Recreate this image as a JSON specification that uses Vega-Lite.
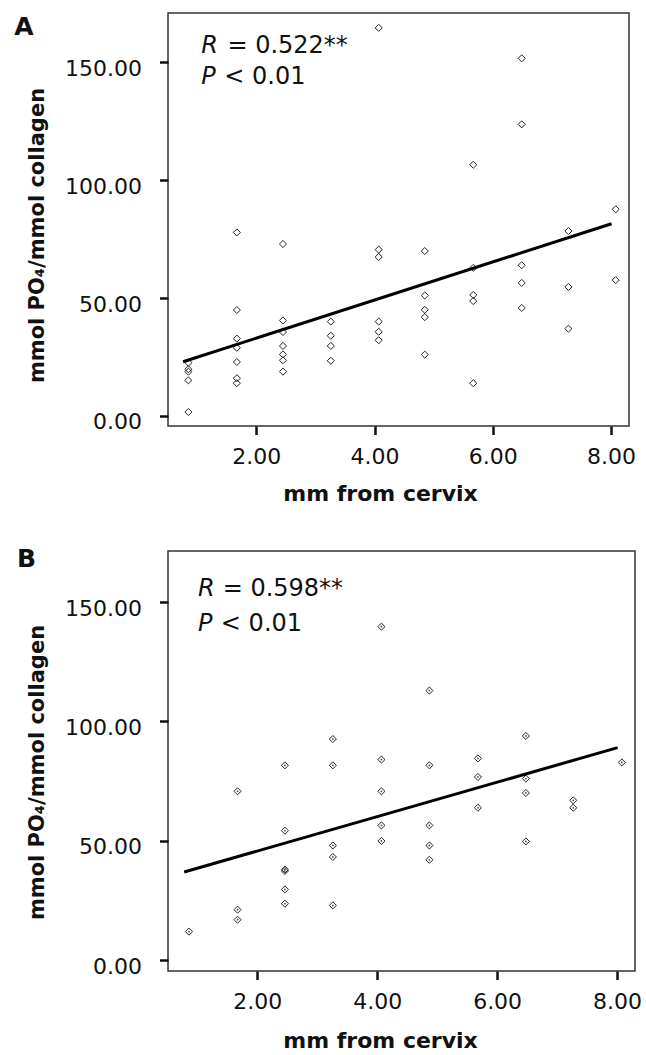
{
  "$schema": "https://vega.github.io/schema/vega-lite/v6.json",
  "background": "white",
  "padding": {"left": 13, "top": 12, "right": 0, "bottom": 0},
  "spacing": 41,
  "config": {
    "font": "DejaVu Sans",
    "view": {"stroke": "#333", "strokeWidth": 1.5},
    "axis": {
      "grid": false,
      "domain": false,
      "tickColor": "#111",
      "tickWidth": 2.5,
      "tickSize": 8.5,
      "labelFont": "DejaVu Sans",
      "labelFontSize": 22,
      "labelColor": "#111",
      "titleFont": "DejaVu Sans",
      "titleFontSize": 22,
      "titleFontWeight": "bold",
      "titleColor": "#111"
    }
  },
  "datasets": {
    "ptsA": [
      {"mm": 0.85, "ratio": 22.6}, {"mm": 0.85, "ratio": 19.8}, {"mm": 0.85, "ratio": 18.8}, {"mm": 0.85, "ratio": 15.1}, {"mm": 0.85, "ratio": 1.7},
      {"mm": 1.67, "ratio": 77.8}, {"mm": 1.67, "ratio": 44.9}, {"mm": 1.67, "ratio": 32.8}, {"mm": 1.67, "ratio": 28.9}, {"mm": 1.67, "ratio": 22.9}, {"mm": 1.67, "ratio": 16.0}, {"mm": 1.67, "ratio": 13.9},
      {"mm": 2.45, "ratio": 72.9}, {"mm": 2.45, "ratio": 40.5}, {"mm": 2.45, "ratio": 35.6}, {"mm": 2.45, "ratio": 29.7}, {"mm": 2.45, "ratio": 26.1}, {"mm": 2.45, "ratio": 23.6}, {"mm": 2.45, "ratio": 18.8},
      {"mm": 3.26, "ratio": 40.0}, {"mm": 3.26, "ratio": 34.0}, {"mm": 3.26, "ratio": 29.7}, {"mm": 3.26, "ratio": 23.4},
      {"mm": 4.07, "ratio": 164.5}, {"mm": 4.07, "ratio": 70.5}, {"mm": 4.07, "ratio": 67.4}, {"mm": 4.07, "ratio": 40.0}, {"mm": 4.07, "ratio": 35.7}, {"mm": 4.07, "ratio": 32.1},
      {"mm": 4.85, "ratio": 69.9}, {"mm": 4.85, "ratio": 51.1}, {"mm": 4.85, "ratio": 45.0}, {"mm": 4.85, "ratio": 41.9}, {"mm": 4.85, "ratio": 26.0},
      {"mm": 5.67, "ratio": 106.5}, {"mm": 5.67, "ratio": 62.8}, {"mm": 5.67, "ratio": 51.3}, {"mm": 5.67, "ratio": 48.7}, {"mm": 5.67, "ratio": 13.9},
      {"mm": 6.49, "ratio": 151.6}, {"mm": 6.49, "ratio": 123.6}, {"mm": 6.49, "ratio": 63.9}, {"mm": 6.49, "ratio": 56.4}, {"mm": 6.49, "ratio": 45.8},
      {"mm": 7.28, "ratio": 78.4}, {"mm": 7.28, "ratio": 54.7}, {"mm": 7.28, "ratio": 37.0},
      {"mm": 8.08, "ratio": 87.6}, {"mm": 8.08, "ratio": 57.6}
    ],
    "fitA": [{"mm": 0.76, "ratio": 23.0}, {"mm": 8.01, "ratio": 81.5}],
    "ptsB": [
      {"mm": 0.86, "ratio": 11.9},
      {"mm": 1.67, "ratio": 70.7}, {"mm": 1.67, "ratio": 21.1}, {"mm": 1.67, "ratio": 16.9},
      {"mm": 2.46, "ratio": 81.6}, {"mm": 2.46, "ratio": 54.2}, {"mm": 2.46, "ratio": 37.3}, {"mm": 2.46, "ratio": 37.9}, {"mm": 2.46, "ratio": 29.6}, {"mm": 2.46, "ratio": 23.6},
      {"mm": 3.26, "ratio": 92.6}, {"mm": 3.26, "ratio": 81.6}, {"mm": 3.26, "ratio": 48.0}, {"mm": 3.26, "ratio": 43.2}, {"mm": 3.26, "ratio": 22.9},
      {"mm": 4.07, "ratio": 139.7}, {"mm": 4.07, "ratio": 84.0}, {"mm": 4.07, "ratio": 70.7}, {"mm": 4.07, "ratio": 56.4}, {"mm": 4.07, "ratio": 49.9},
      {"mm": 4.87, "ratio": 112.9}, {"mm": 4.87, "ratio": 81.6}, {"mm": 4.87, "ratio": 56.4}, {"mm": 4.87, "ratio": 48.0}, {"mm": 4.87, "ratio": 42.0},
      {"mm": 5.68, "ratio": 84.5}, {"mm": 5.68, "ratio": 76.7}, {"mm": 5.68, "ratio": 63.8},
      {"mm": 6.48, "ratio": 93.9}, {"mm": 6.48, "ratio": 76.0}, {"mm": 6.48, "ratio": 70.0}, {"mm": 6.48, "ratio": 49.7},
      {"mm": 7.27, "ratio": 66.9}, {"mm": 7.27, "ratio": 63.8},
      {"mm": 8.08, "ratio": 82.8}
    ],
    "fitB": [{"mm": 0.78, "ratio": 36.9}, {"mm": 8.01, "ratio": 89.0}]
  },
  "vconcat": [
    {
      "width": 461,
      "height": 413,
      "layer": [
        {
          "data": {"name": "ptsA"},
          "mark": {"type": "point", "shape": "diamond", "size": 50, "filled": false, "stroke": "#222", "strokeWidth": 1, "opacity": 1},
          "encoding": {
            "x": {"field": "mm", "type": "quantitative", "scale": {"domain": [0.505, 8.305], "nice": false, "zero": false},
              "axis": {"values": [2, 4, 6, 8], "format": ".2f", "labelPadding": 12, "title": "mm from cervix", "titleX": 212, "titleY": 74, "titleBaseline": "alphabetic", "titleAlign": "center"}},
            "y": {"field": "ratio", "type": "quantitative", "scale": {"domain": [-4.24, 170.8], "nice": false, "zero": false},
              "axis": {"values": [0, 50, 100, 150], "format": ".2f", "labelPadding": 18, "labelBaseline": "top", "labelOffset": -4, "title": "mmol PO₄/mmol collagen", "titleFontSize": 21, "titleX": -125, "titleY": 222, "titleAngle": -90, "titleBaseline": "alphabetic", "titleAlign": "center"}}
          }
        },
        {
          "data": {"name": "fitA"},
          "mark": {"type": "line", "color": "#000", "strokeWidth": 3},
          "encoding": {"x": {"field": "mm", "type": "quantitative"}, "y": {"field": "ratio", "type": "quantitative"}}
        },
        {
          "data": {"values": [{}]},
          "mark": {"type": "text", "align": "left", "baseline": "alphabetic", "fontSize": 25, "fontWeight": "bold", "color": "#111"},
          "encoding": {"x": {"datum": -2.096}, "y": {"datum": 161.5}, "text": {"value": "A"}}
        },
        {
          "data": {"values": [{}]},
          "mark": {"type": "text", "align": "left", "baseline": "alphabetic", "fontSize": 24, "fontStyle": "italic", "color": "#111"},
          "encoding": {"x": {"datum": 1.069}, "y": {"datum": 153.9}, "text": {"value": "R"}}
        },
        {
          "data": {"values": [{}]},
          "mark": {"type": "text", "align": "left", "baseline": "alphabetic", "fontSize": 24, "color": "#111"},
          "encoding": {"x": {"datum": 1.51}, "y": {"datum": 153.9}, "text": {"value": "= 0.522**"}}
        },
        {
          "data": {"values": [{}]},
          "mark": {"type": "text", "align": "left", "baseline": "alphabetic", "fontSize": 24, "fontStyle": "italic", "color": "#111"},
          "encoding": {"x": {"datum": 1.069}, "y": {"datum": 140.8}, "text": {"value": "P"}}
        },
        {
          "data": {"values": [{}]},
          "mark": {"type": "text", "align": "left", "baseline": "alphabetic", "fontSize": 24, "color": "#111"},
          "encoding": {"x": {"datum": 1.458}, "y": {"datum": 140.8}, "text": {"value": "< 0.01"}}
        }
      ]
    },
    {
      "width": 467,
      "height": 420,
      "layer": [
        {
          "data": {"name": "ptsB"},
          "mark": {"type": "point", "shape": "diamond", "size": 50, "filled": false, "stroke": "#222", "strokeWidth": 1, "opacity": 1},
          "encoding": {
            "x": {"field": "mm", "type": "quantitative", "scale": {"domain": [0.51, 8.3], "nice": false, "zero": false},
              "axis": {"values": [2, 4, 6, 8], "format": ".2f", "labelPadding": 12, "title": "mm from cervix", "titleX": 212, "titleY": 76, "titleBaseline": "alphabetic", "titleAlign": "center"}},
            "y": {"field": "ratio", "type": "quantitative", "scale": {"domain": [-4.6, 171.4], "nice": false, "zero": false},
              "axis": {"values": [0, 50, 100, 150], "format": ".2f", "labelPadding": 18, "labelBaseline": "top", "labelOffset": -4, "title": "mmol PO₄/mmol collagen", "titleFontSize": 21, "titleX": -125, "titleY": 221, "titleAngle": -90, "titleBaseline": "alphabetic", "titleAlign": "center"}}
          }
        },
        {
          "data": {"name": "ptsB"},
          "mark": {"type": "point", "shape": "circle", "size": 3, "filled": true, "color": "#444", "opacity": 1},
          "encoding": {"x": {"field": "mm", "type": "quantitative"}, "y": {"field": "ratio", "type": "quantitative"}}
        },
        {
          "data": {"name": "fitB"},
          "mark": {"type": "line", "color": "#000", "strokeWidth": 3},
          "encoding": {"x": {"field": "mm", "type": "quantitative"}, "y": {"field": "ratio", "type": "quantitative"}}
        },
        {
          "data": {"values": [{}]},
          "mark": {"type": "text", "align": "left", "baseline": "alphabetic", "fontSize": 25, "fontWeight": "bold", "color": "#111"},
          "encoding": {"x": {"datum": -2.01}, "y": {"datum": 164.7}, "text": {"value": "B"}}
        },
        {
          "data": {"values": [{}]},
          "mark": {"type": "text", "align": "left", "baseline": "alphabetic", "fontSize": 24, "fontStyle": "italic", "color": "#111"},
          "encoding": {"x": {"datum": 1.012}, "y": {"datum": 152.6}, "text": {"value": "R"}}
        },
        {
          "data": {"values": [{}]},
          "mark": {"type": "text", "align": "left", "baseline": "alphabetic", "fontSize": 24, "color": "#111"},
          "encoding": {"x": {"datum": 1.422}, "y": {"datum": 152.6}, "text": {"value": "= 0.598**"}}
        },
        {
          "data": {"values": [{}]},
          "mark": {"type": "text", "align": "left", "baseline": "alphabetic", "fontSize": 24, "fontStyle": "italic", "color": "#111"},
          "encoding": {"x": {"datum": 1.012}, "y": {"datum": 137.9}, "text": {"value": "P"}}
        },
        {
          "data": {"values": [{}]},
          "mark": {"type": "text", "align": "left", "baseline": "alphabetic", "fontSize": 24, "color": "#111"},
          "encoding": {"x": {"datum": 1.392}, "y": {"datum": 137.9}, "text": {"value": "< 0.01"}}
        }
      ]
    }
  ]
}
